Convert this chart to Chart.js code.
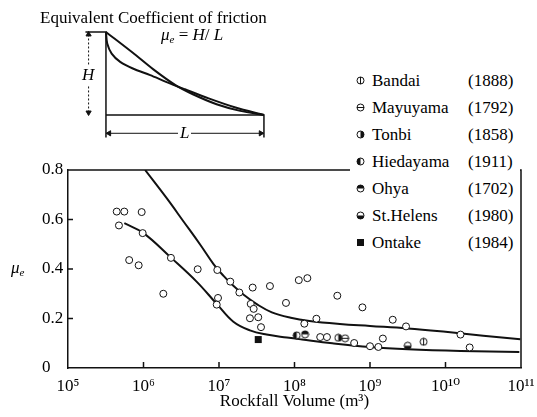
<!DOCTYPE html>
<html>
<head>
<meta charset="utf-8">
<script src="https://cdn.jsdelivr.net/npm/chart.js@4.4.0/dist/chart.umd.min.js"></script>
<style>
  body { margin: 0; background: #fff; }
  #wrap { position: relative; width: 537px; height: 417px; overflow: hidden;
    font-family: "Liberation Serif", "Times New Roman", "DejaVu Serif", "Noto Serif", serif; color: #000; }
  #main { position: absolute; left: 0; top: 0; }
  #inset { position: absolute; left: 75px; top: 25px; }
  .txt { position: absolute; font-size: 17px; line-height: 20px; white-space: nowrap; }
  .txt i { font-style: italic; }
  .txt sub { font-size: 11px; vertical-align: -3px; font-style: italic; }
  #legend { position: absolute; left: 350px; top: 67px; width: 170px; background: #fff; }
  .row { position: relative; height: 27px; font-size: 17px; line-height: 27px; }
  .row canvas { position: absolute; left: 6px; top: 9px; }
  .row .nm { position: absolute; left: 22px; top: 0; }
  .row .yr { position: absolute; left: 118px; top: 0; }
</style>
</head>
<body>
<div id="wrap">
  <canvas id="main" width="537" height="417"></canvas>
  <canvas id="inset" width="200" height="120"></canvas>
  <div class="txt" style="left:40px; top:8px;">Equivalent Coefficient of friction</div>
  <div class="txt" style="left:161px; top:25px;"><i>μ</i><sub>e</sub> = <i>H</i>/ <i>L</i></div>
  <div class="txt" style="left:81px; top:65px; background:#fff; padding:0 1px;"><i>H</i></div>
  <div class="txt" style="left:178px; top:123px; background:#fff; padding:0 2px;"><i>L</i></div>
  <div class="txt" style="left:11px; top:258px;"><i>μ</i><sub>e</sub></div>
  <div id="legend"></div>
</div>
<script>
// main chart data: rockfall volume (m3) and equivalent coefficient of friction
const xTicks = [1e5, 1e6, 1e7, 1e8, 1e9, 1e10, 1e11];
const xTickLabels = ["10⁵", "10⁶", "10⁷", "10⁸", "10⁹", "10¹⁰", "10¹¹"];
const yTicks = [0, 0.2, 0.4, 0.6, 0.8];
const yTickLabels = ["0", "0.2", "0.4", "0.6", "0.8"];

const openV = [4.42e5, 5.57e5, 9.46e5, 4.73e5, 9.75e5, 6.46e5, 8.63e5, 2.31e6, 1.83e6, 5.22e6,
  9.5e6, 1.41e7, 1.86e7, 2.79e7, 4.73e7, 9.7e6, 9.33e6, 2.63e7, 1.14e8, 1.48e8,
  3.69e8, 7.71e7, 2.88e7, 2.57e7, 3.31e7, 3.6e7, 1.35e8, 1.95e8, 2.19e8, 2.69e8,
  7.94e8, 2.0e9, 3.0e9, 1.58e10, 2.09e10, 1.48e9, 1.29e9, 1.0e9, 6.17e8];
const openMu = [0.632, 0.632, 0.63, 0.576, 0.545, 0.436, 0.415, 0.445, 0.30, 0.399,
  0.396, 0.349, 0.305, 0.325, 0.331, 0.283, 0.256, 0.259, 0.355, 0.363,
  0.292, 0.263, 0.239, 0.201, 0.205, 0.165, 0.179, 0.199, 0.125, 0.125,
  0.245, 0.195, 0.168, 0.135, 0.083, 0.119, 0.085, 0.088, 0.101];

const namedSites = ["Bandai", "Mayuyama", "Tonbi", "Hiedayama", "Ohya", "St.Helens", "Ontake"];
const namedYears = ["(1888)", "(1792)", "(1858)", "(1911)", "(1702)", "(1980)", "(1984)"];
const namedMarks = ["vbar", "hbar", "right", "left", "top", "bottom", "square"];
const namedV = [5.13e9, 4.68e8, 3.8e8, 1.07e8, 1.38e8, 3.16e9, 3.31e7];
const namedMu = [0.106, 0.12, 0.122, 0.132, 0.136, 0.09, 0.115];

const upperV = [1.05e6, 2.04e6, 3.39e6, 5.62e6, 8.51e6, 1.15e7, 1.55e7, 2.14e7, 3.16e7, 5.01e7,
  8.91e7, 1.58e8, 3.98e8, 1e9, 3.16e9, 1e10, 3.16e10, 9.8e10];
const upperMu = [0.8, 0.685, 0.592, 0.499, 0.419, 0.372, 0.332, 0.295, 0.258, 0.225,
  0.203, 0.19, 0.178, 0.17, 0.16, 0.146, 0.13, 0.116];
const lowerV = [5.57e5, 1e6, 2.29e6, 5.01e6, 9.33e6, 1.55e7, 2.57e7, 4.27e7, 7.94e7, 1.26e8,
  3.16e8, 1e9, 3.16e9, 1.58e10, 9.5e10];
const lowerMu = [0.585, 0.545, 0.447, 0.35, 0.259, 0.187, 0.152, 0.135, 0.123, 0.115,
  0.1, 0.085, 0.076, 0.069, 0.065];

// inset sketch (normalised: L = 1, H = 1)
const curveAX = [0, 0.17, 0.3, 0.44, 0.55, 0.7, 0.85, 1];
const curveAY = [1, 0.75, 0.55, 0.36, 0.25, 0.13, 0.05, 0];
const curveBX = [0, 0.008, 0.036, 0.09, 0.17, 0.28, 0.38, 0.5, 0.65, 0.82, 1];
const curveBY = [1, 0.86, 0.74, 0.64, 0.56, 0.48, 0.4, 0.31, 0.2, 0.09, 0];

const INK = "#111";
const SERIF = "'Liberation Serif', 'Times New Roman', 'DejaVu Serif', 'Noto Serif', serif";

function pts(xs, ys) {
  return xs.map((x, i) => ({ x: x, y: ys[i] }));
}

// draws one of the half-filled circle markers
function makeMarker(type) {
  const c = document.createElement("canvas");
  c.width = 9; c.height = 9;
  const g = c.getContext("2d");
  g.strokeStyle = INK; g.fillStyle = INK; g.lineWidth = 1;
  if (type === "square") {
    g.fillRect(1, 1, 7, 7);
    return c;
  }
  const r = 3.5, cx = 4.5, cy = 4.5;
  g.fillStyle = "#fff";
  g.beginPath(); g.arc(cx, cy, r, 0, Math.PI * 2); g.fill();
  g.fillStyle = INK;
  const halves = { right: [-0.5, 0.5], left: [0.5, 1.5], top: [1, 2], bottom: [0, 1] };
  if (halves[type]) {
    g.beginPath();
    g.arc(cx, cy, r, halves[type][0] * Math.PI, halves[type][1] * Math.PI);
    g.closePath(); g.fill();
  }
  g.beginPath(); g.arc(cx, cy, r, 0, Math.PI * 2); g.stroke();
  if (type === "vbar") { g.beginPath(); g.moveTo(cx, cy - r); g.lineTo(cx, cy + r); g.stroke(); }
  if (type === "hbar") { g.beginPath(); g.moveTo(cx - r, cy); g.lineTo(cx + r, cy); g.stroke(); }
  return c;
}

// legend
const legend = document.getElementById("legend");
namedSites.forEach((name, i) => {
  const row = document.createElement("div");
  row.className = "row";
  row.appendChild(makeMarker(namedMarks[i]));
  const nm = document.createElement("span");
  nm.className = "nm"; nm.textContent = name;
  const yr = document.createElement("span");
  yr.className = "yr"; yr.textContent = namedYears[i];
  row.appendChild(nm); row.appendChild(yr);
  legend.appendChild(row);
});

// frame on top/right plus inward tick marks
const framePlugin = {
  id: "frame",
  afterDatasetsDraw(chart) {
    const { ctx, chartArea: a, scales } = chart;
    ctx.save();
    ctx.strokeStyle = INK;
    ctx.lineWidth = 1.5;
    ctx.beginPath();
    ctx.moveTo(a.left, a.top); ctx.lineTo(a.right, a.top); ctx.lineTo(a.right, a.bottom);
    xTicks.slice(1, -1).forEach((v) => {
      const px = scales.x.getPixelForValue(v);
      ctx.moveTo(px, a.bottom); ctx.lineTo(px, a.bottom - 6);
    });
    yTicks.slice(1, -1).forEach((v) => {
      const py = scales.y.getPixelForValue(v);
      ctx.moveTo(a.left, py); ctx.lineTo(a.left + 5, py);
    });
    ctx.stroke();
    ctx.restore();
  },
};

Chart.defaults.font.family = SERIF;
Chart.defaults.color = "#000";

const datasets = [
  {
    label: "data", data: pts(openV, openMu), order: 0,
    pointStyle: "circle", pointRadius: 3.5, borderWidth: 1,
    borderColor: INK, backgroundColor: "#fff",
  },
];
namedSites.forEach((name, i) => {
  datasets.push({
    label: name, data: [{ x: namedV[i], y: namedMu[i] }], order: 0,
    pointStyle: makeMarker(namedMarks[i]),
  });
});
datasets.push({
  label: "upper", data: pts(upperV, upperMu), order: 1, showLine: true,
  borderColor: INK, borderWidth: 2, pointRadius: 0, tension: 0.4,
});
datasets.push({
  label: "lower", data: pts(lowerV, lowerMu), order: 1, showLine: true,
  borderColor: INK, borderWidth: 2, pointRadius: 0, tension: 0.4,
});

new Chart(document.getElementById("main"), {
  type: "scatter",
  data: { datasets: datasets },
  plugins: [framePlugin],
  options: {
    responsive: false,
    animation: false,
    events: [],
    layout: { autoPadding: false, padding: { left: 42, top: 170, right: 16, bottom: 0 } },
    plugins: { legend: { display: false }, tooltip: { enabled: false } },
    scales: {
      x: {
        type: "logarithmic", min: 1e5, max: 1e11,
        afterBuildTicks: (s) => { s.ticks = xTicks.map((v) => ({ value: v })); },
        afterFit: (s) => { s.height = 49; },
        grid: { display: false },
        border: { display: true, color: INK, width: 1.5 },
        ticks: {
          autoSkip: false, maxRotation: 0, padding: 0,
          font: { size: 17 },
          callback: (v) => xTickLabels[xTicks.indexOf(v)],
        },
        title: {
          display: true, text: "Rockfall Volume (m³)",
          font: { size: 17 }, padding: { top: 0, bottom: 5 },
        },
      },
      y: {
        min: 0, max: 0.8,
        afterBuildTicks: (s) => { s.ticks = yTicks.map((v) => ({ value: v })); },
        afterFit: (s) => { s.width = 26; },
        grid: { display: false },
        border: { display: true, color: INK, width: 1.5 },
        ticks: {
          crossAlign: "far", padding: 3,
          font: { size: 17 },
          callback: (v) => yTickLabels[yTicks.indexOf(v)],
        },
      },
    },
  },
});

// inset sketch of the H/L definition
const arrow = { pointStyle: "triangle", pointRadius: 3, backgroundColor: INK, borderColor: INK };
new Chart(document.getElementById("inset"), {
  type: "scatter",
  data: {
    datasets: [
      { data: pts(curveAX, curveAY), showLine: true, borderColor: INK, borderWidth: 2,
        pointRadius: 0, tension: 0.3, clip: false },
      { data: pts(curveBX, curveBY), showLine: true, borderColor: INK, borderWidth: 2,
        pointRadius: 0, tension: 0.3, clip: false },
      { data: pts([-0.13, 0, 0], [1, 1, -0.27]), showLine: true, borderColor: INK,
        borderWidth: 1.5, pointRadius: 0, tension: 0, clip: false },
      { data: pts([0, 1, 1], [0, 0, -0.27]), showLine: true, borderColor: INK,
        borderWidth: 1.5, pointRadius: 0, tension: 0, clip: false },
      Object.assign({ data: pts([-0.11, -0.11], [0.97, 0.03]), showLine: true,
        borderWidth: 1, borderDash: [2, 2], rotation: [0, 180], clip: false }, arrow),
      Object.assign({ data: pts([0.02, 0.98], [-0.22, -0.22]), showLine: true,
        borderWidth: 1, rotation: [270, 90], clip: false }, arrow),
    ],
  },
  options: {
    responsive: false,
    animation: false,
    events: [],
    layout: { autoPadding: false, padding: 0 },
    plugins: { legend: { display: false }, tooltip: { enabled: false } },
    scales: {
      x: { type: "linear", display: false, min: -0.196, max: 1.07 },
      y: { type: "linear", display: false, min: -0.361, max: 1.084 },
    },
  },
});
</script>
</body>
</html>
